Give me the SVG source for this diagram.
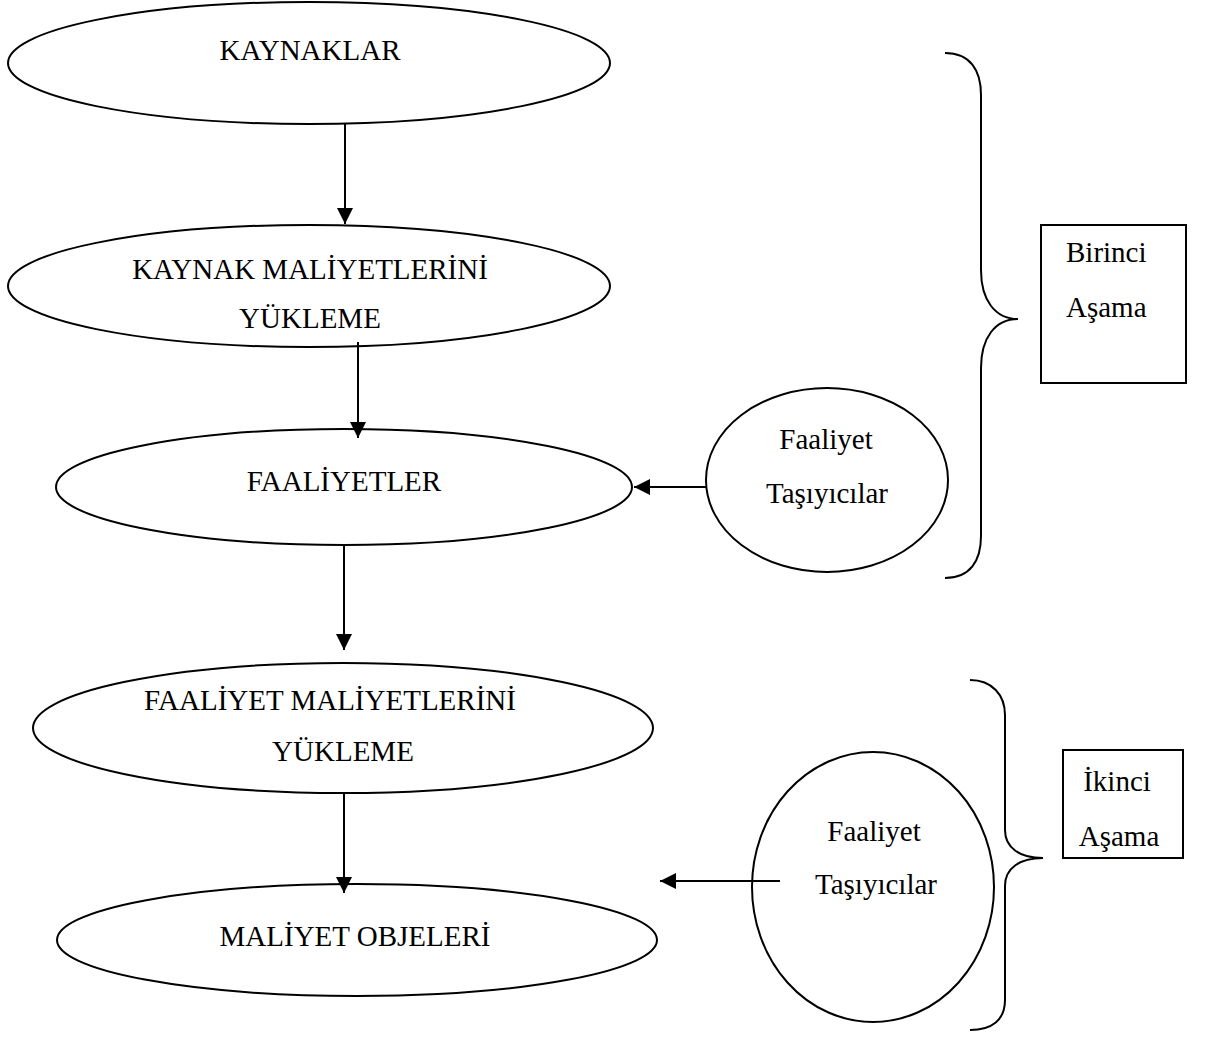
<svg xmlns="http://www.w3.org/2000/svg" width="1227" height="1039" viewBox="0 0 1227 1039">
<style>
.s{fill:none;stroke:#000;stroke-width:2}
.t{font-family:"Liberation Serif","Times New Roman",serif;font-size:29px;fill:#000}
.c{text-anchor:middle}
</style>
<defs>
<marker id="ah" viewBox="0 0 10 10" refX="10" refY="5" markerWidth="16" markerHeight="16" markerUnits="userSpaceOnUse" orient="auto">
<path d="M0,0 L10,5 L0,10 z" fill="#000"/>
</marker>
</defs>
<rect width="1227" height="1039" fill="#fff"/>
<g id="connectors">
<line class="s" x1="345" y1="124" x2="345" y2="224" marker-end="url(#ah)"/>
<line class="s" x1="358" y1="342" x2="358" y2="438" marker-end="url(#ah)"/>
<line class="s" x1="344" y1="545" x2="344" y2="650" marker-end="url(#ah)"/>
<line class="s" x1="344" y1="793" x2="344" y2="893" marker-end="url(#ah)"/>
<line class="s" x1="706" y1="487" x2="634" y2="487" marker-end="url(#ah)"/>
<line class="s" x1="780" y1="881" x2="660" y2="881" marker-end="url(#ah)"/>
</g>
<g id="n1"><ellipse class="s" cx="309" cy="63" rx="301" ry="61"/><text class="t c" x="310" y="60">KAYNAKLAR</text></g>
<g id="n2"><ellipse class="s" cx="309" cy="286" rx="301" ry="61"/><text class="t c" x="310" y="279">KAYNAK MALİYETLERİNİ</text><text class="t c" x="310" y="328">YÜKLEME</text></g>
<g id="n3"><ellipse class="s" cx="344" cy="487" rx="288" ry="58"/><text class="t c" x="344" y="491">FAALİYETLER</text></g>
<g id="n4"><ellipse class="s" cx="343" cy="728" rx="310" ry="65"/><text class="t c" x="330" y="710">FAALİYET MALİYETLERİNİ</text><text class="t c" x="343" y="761">YÜKLEME</text></g>
<g id="n5"><ellipse class="s" cx="357" cy="940" rx="300" ry="56"/><text class="t c" x="355" y="946">MALİYET OBJELERİ</text></g>
<g id="n6"><ellipse class="s" cx="827" cy="480" rx="121" ry="92"/><text class="t c" x="826" y="449">Faaliyet</text><text class="t c" x="827" y="503">Taşıyıcılar</text></g>
<g id="n7"><ellipse class="s" cx="873" cy="887" rx="121" ry="135"/><text class="t c" x="874" y="841">Faaliyet</text><text class="t c" x="876" y="894">Taşıyıcılar</text></g>
<g id="brace1"><path class="s" d="M945,53 C970,53 981,70 981,95 L981,270 C981,300 995,319 1018,319 C995,319 981,338 981,368 L981,536 C981,561 970,578 945,578"/></g>
<g id="brace2"><path class="s" d="M970,680 C992,680 1005,695 1005,715 L1005,830 C1005,848 1020,858 1043,858 C1020,858 1005,868 1005,886 L1005,1000 C1005,1020 992,1030 970,1030"/></g>
<g id="box1"><rect class="s" x="1041" y="225" width="145" height="158"/><text class="t" x="1066" y="262">Birinci</text><text class="t" x="1066" y="317">Aşama</text></g>
<g id="box2"><rect class="s" x="1063" y="750" width="120" height="108"/><text class="t c" x="1117" y="791">İkinci</text><text class="t c" x="1119" y="846">Aşama</text></g>
</svg>
